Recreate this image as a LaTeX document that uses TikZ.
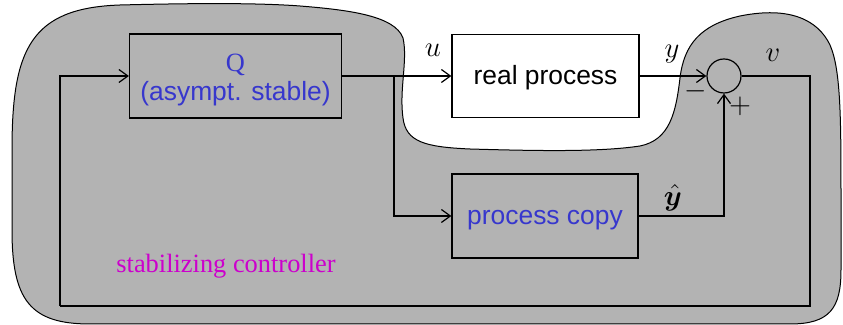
\documentclass[tikz,border=0pt]{standalone}
\usepackage{fontspec}
\usepackage{bm}
\usetikzlibrary{arrows.meta}
\newfontfamily\sansface{Liberation Sans}
\newfontfamily\serifface{Liberation Serif}
\definecolor{blobgray}{RGB}{179,179,179}
\definecolor{labelblue}{RGB}{55,55,205}
\definecolor{labelmagenta}{RGB}{204,0,204}
\tikzset{
  wire/.style={line width=0.6pt},
  flow/.style={wire,-{Straight Barb[length=4.5pt,width=6.5pt]}},
  blockbox/.style={draw,line width=0.6pt,rectangle,inner sep=0pt,
    text height=9.5pt,text depth=1pt},
  sumnode/.style={draw,line width=0.6pt,circle,minimum size=17pt,inner sep=0pt},
  sigtext/.style={inner sep=0pt,font=\fontsize{15}{17}\selectfont},
  signtext/.style={inner sep=0pt,font=\fontsize{14}{16}\selectfont},
}
\begin{document}
\begin{tikzpicture}[x=0.5pt,y=-0.5pt]
\useasboundingbox (0,0) rectangle (843,325);

% controller region, with the plant carved out of it
\draw[fill=blobgray,line width=0.5pt]
  (12,150)
  .. controls (12,50) and (30,8) .. (120,5)
  .. controls (200,3) and (260,3) .. (300,6)
  .. controls (350,10) and (395,16) .. (403,38)
  .. controls (408,60) and (399,90) .. (403,118)
  .. controls (406,142) and (425,147) .. (470,149)
  .. controls (540,151) and (600,152) .. (640,146)
  .. controls (670,140) and (676,112) .. (680,78)
  .. controls (684,45) and (700,25) .. (740,16)
  .. controls (790,6) and (818,20) .. (830,45)
  .. controls (841,70) and (841,120) .. (841,200)
  -- (841,270)
  .. controls (841,308) and (830,324) .. (790,324)
  -- (90,324)
  .. controls (30,324) and (12,300) .. (12,230)
  -- cycle;

% blocks
\node[blockbox,minimum width=106pt,minimum height=42pt] (Q) at (235.5,76) {};
\node[inner sep=0pt,align=center,text=labelblue,
      font=\fontsize{13.2}{14.5}\selectfont] (Qtext) at (235.5,80.5)
  {{\serifface Q}\\{\sansface (asympt. stable)}};
\node[blockbox,fill=white,minimum width=93.5pt,minimum height=41.5pt,
      font=\sansface\fontsize{13.2}{15}\selectfont] (real) at (545.5,76) {real process};
\node[blockbox,minimum width=93pt,minimum height=42pt,text=labelblue,
      font=\sansface\fontsize{13.2}{15}\selectfont] (copy) at (545,216) {process copy};
\node[sumnode] (sum) at (724,76) {};

% routing points
\coordinate (branch) at (394,76);
\coordinate (outcorner) at (810,306);
\coordinate (backcorner) at (60,306);

% signal lines
\draw[flow] (Q.east) -- (real.west);
\draw[flow] (branch) |- (copy.west);
\draw[flow] (real.east) -- (sum.west);
\draw[flow] (copy.east) -| (sum.south);
\draw[wire] (sum.east) -| (outcorner) -- (backcorner);
\draw[flow] (backcorner) |- (Q.west);

% signal names and signs
\node[sigtext] (ulabel) at (433,50) {$u$};
\node[sigtext] (ylabel) at (672,54) {$y$};
\node[sigtext] (vlabel) at (773,55) {$v$};
\node[sigtext] (yhatlabel) at (673,198) {$\bm{\hat{y}}$};
\node[signtext] (minus) at (696,91) {$-$};
\node[signtext] (plus) at (740,106) {$+$};

\node[anchor=base,inner sep=0pt,text=labelmagenta,
      font=\serifface\fontsize{13.2}{15}\selectfont] (ctrl) at (226,273)
  {stabilizing controller};
\end{tikzpicture}
\end{document}
